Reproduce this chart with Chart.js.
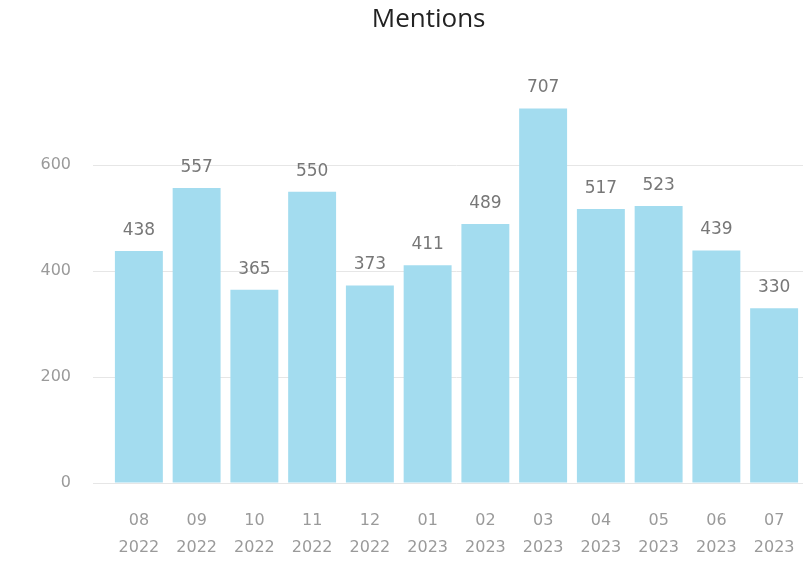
<!DOCTYPE html>
<html>
<head>
<meta charset="utf-8">
<script src="https://cdn.jsdelivr.net/npm/chart.js@4/dist/chart.umd.min.js"></script>
<style>
    html, body { margin: 0; padding: 0; background: #fff; }
    #wrap { width: 805px; height: 563px; }
</style>
</head>
<body>
<div id="wrap"><canvas id="mentionsChart"></canvas></div>
<script>
const months = ['08', '09', '10', '11', '12', '01', '02', '03', '04', '05', '06', '07'];
const years = ['2022', '2022', '2022', '2022', '2022', '2023', '2023', '2023', '2023', '2023', '2023', '2023'];
const mentions = [438, 557, 365, 550, 373, 411, 489, 707, 517, 523, 439, 330];
const yTicks = [0, 200, 400, 600];

// values above each bar
const barValues = {
    id: 'barValues',
    afterDatasetsDraw(chart) {
        const ctx = chart.ctx;
        const meta = chart.getDatasetMeta(0);
        ctx.save();
        ctx.font = '17px "DejaVu Sans"';
        ctx.fillStyle = '#777777';
        ctx.textAlign = 'center';
        ctx.textBaseline = 'alphabetic';
        meta.data.forEach(function (bar, i) {
            ctx.fillText(String(mentions[i]), bar.x, bar.y - 16);
        });
        ctx.restore();
    }
};

const ctx = document.getElementById('mentionsChart').getContext('2d');
new Chart(ctx, {
    type: 'bar',
    data: {
        labels: months.map(function (m, i) { return [m, years[i]]; }),
        datasets: [{
            data: mentions,
            backgroundColor: '#a3dcef',
            borderWidth: 0,
            barPercentage: 0.83,
            categoryPercentage: 1
        }]
    },
    options: {
        responsive: true,
        maintainAspectRatio: false,
        animation: false,
        layout: { padding: { left: 34, right: 2, top: 0, bottom: 0 } },
        plugins: {
            legend: { display: false },
            tooltip: { enabled: false },
            title: {
                display: true,
                text: '   Mentions',
                color: '#222222',
                font: { family: '"Open Sans"', size: 26, weight: 'normal', lineHeight: 1.2 },
                padding: { top: 4, bottom: 24 }
            }
        },
        scales: {
            x: {
                grid: { display: false },
                border: { display: false },
                afterFit: function (scale) {
                    scale.height = 80;
                    scale.paddingLeft = 0;
                    scale.paddingRight = 0;
                },
                ticks: {
                    color: '#9a9a9a',
                    padding: 16,
                    font: { family: '"DejaVu Sans"', size: 16, lineHeight: 1.7 }
                }
            },
            y: {
                min: 0,
                max: 800,
                afterBuildTicks: function (scale) {
                    scale.ticks = yTicks.map(function (v) { return { value: v }; });
                },
                afterFit: function (scale) { scale.width = 76; },
                border: { display: false },
                grid: { color: '#e6e6e6', lineWidth: 1, drawTicks: true, tickLength: 17 },
                ticks: {
                    color: '#9a9a9a',
                    padding: 22,
                    font: { family: '"DejaVu Sans"', size: 16 }
                }
            }
        }
    },
    plugins: [barValues]
});
</script>
</body>
</html>
